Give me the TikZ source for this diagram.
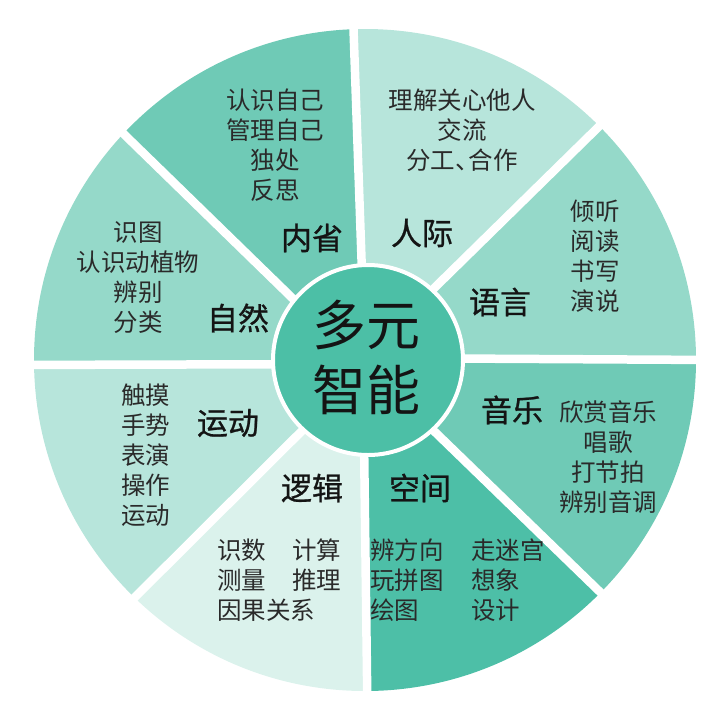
\documentclass[tikz,border=0pt]{standalone}
\usepackage{fontspec}
\usetikzlibrary{calc}
\newfontfamily\cjk{Noto Sans CJK SC}
\newfontfamily\cjklab[FakeBold=0.8]{Noto Sans CJK SC}
\definecolor{cA}{HTML}{6FCAB6}
\definecolor{cB}{HTML}{B7E5DB}
\definecolor{cC}{HTML}{95D9C9}
\definecolor{cD}{HTML}{DBF2EC}
\definecolor{cE}{HTML}{4DBFA7}
\definecolor{cCenter}{HTML}{4CBFA6}
\definecolor{itemtext}{HTML}{2A2A2A}
\definecolor{labtext}{HTML}{141414}
\tikzset{
  gapline/.style={white, line width=8.5pt},
  items/.style={inner sep=0pt, text=itemtext, font={\cjk\fontsize{24.5}{30}\selectfont}},
  itemsc/.style={items, align=center},
  itemsl/.style={items, align=left, anchor=west},
  lab/.style={inner sep=0pt, text=labtext, font={\cjklab\fontsize{31}{36}\selectfont}},
  centertext/.style={inner sep=0pt, text=labtext, align=center, font={\cjk\fontsize{54}{65}\selectfont}}
}
\begin{document}
\begin{tikzpicture}[x=1pt,y=-1pt]
\useasboundingbox (0,0) rectangle (717,716);
\coordinate (C) at (365,360);
% gap lines: inner and outer ends
\coordinate (E1) at (365,358);   \coordinate (E2) at (717,360);
\coordinate (NE1) at (366,355);  \coordinate (NE2) at (630,96);
\coordinate (N1) at (365,360);   \coordinate (N2) at (352.5,0);
\coordinate (NW1) at (358,362);  \coordinate (NW2) at (94,105);
\coordinate (W1) at (365,364);   \coordinate (W2) at (0,365);
\coordinate (SW1) at (362,371);  \coordinate (SW2) at (105,627);
\coordinate (S1) at (363,360);   \coordinate (S2) at (367.5,716);
\coordinate (SE1) at (370,369);  \coordinate (SE2) at (631,622);
\begin{scope}
  \clip (C) circle[radius=331];
  % 语言
  \fill[cC] (E1) -- (E2) -- ($(C)+(-22.5:600)$) -- (NE2) -- (NE1) -- cycle;
  % 人际
  \fill[cB] (NE1) -- (NE2) -- ($(C)+(-67.5:600)$) -- (N2) -- (N1) -- cycle;
  % 内省
  \fill[cA] (N1) -- (N2) -- ($(C)+(-112.5:600)$) -- (NW2) -- (NW1) -- cycle;
  % 自然
  \fill[cC] (NW1) -- (NW2) -- ($(C)+(-157.5:600)$) -- (W2) -- (W1) -- cycle;
  % 运动
  \fill[cB] (W1) -- (W2) -- ($(C)+(-202.5:600)$) -- (SW2) -- (SW1) -- cycle;
  % 逻辑
  \fill[cD] (SW1) -- (SW2) -- ($(C)+(-247.5:600)$) -- (S2) -- (S1) -- cycle;
  % 空间
  \fill[cE] (S1) -- (S2) -- ($(C)+(-292.5:600)$) -- (SE2) -- (SE1) -- cycle;
  % 音乐
  \fill[cA] (SE1) -- (SE2) -- ($(C)+(-337.5:600)$) -- (E2) -- (E1) -- cycle;
\end{scope}
% white gaps
\foreach \g in {E,NE,N,NW,W,SW,S,SE}{
  \draw[gapline] (\g1) -- (\g2);
}
% centre circle
\node[circle, fill=cCenter, draw=white, line width=4pt, minimum size=190pt, inner sep=0pt] (hub) at (368,360) {};
\node[centertext] (hubtext) at (366,357.5) {多元\\智能};
% labels
\node[lab] (l1) at (312,238) {内省};
\node[lab] (l2) at (422,233) {人际};
\node[lab] (l3) at (500,302) {语言};
\node[lab] (l4) at (512,410) {音乐};
\node[lab] (l5) at (420,488) {空间};
\node[lab] (l6) at (312,488) {逻辑};
\node[lab] (l7) at (228,423) {运动};
\node[lab] (l8) at (238,318) {自然};
% items
\node[itemsc] (i1) at (275,145) {认识自己\\管理自己\\独处\\反思};
\node[itemsc] (i2) at (462,130) {理解关心他人\\交流\\分工、\hspace{-11pt}合作};
\node[itemsc] (i3) at (595,256) {倾听\\阅读\\书写\\演说};
\node[itemsc] (i4) at (608,457) {欣赏音乐\\唱歌\\打节拍\\辨别音调};
\node[itemsl] (i5a) at (370,580) {辨方向\\玩拼图\\绘图};
\node[itemsl] (i5b) at (471,580) {走迷宫\\想象\\设计};
\node[itemsl] (i6a) at (217,580) {识数\\测量\\因果关系};
\node[itemsl] (i6b) at (292,565) {计算\\推理};
\node[itemsl] (i7) at (121,455) {触摸\\手势\\表演\\操作\\运动};
\node[itemsc] (i8) at (138,278) {识图\\认识动植物\\辨别\\分类};
\end{tikzpicture}
\end{document}
